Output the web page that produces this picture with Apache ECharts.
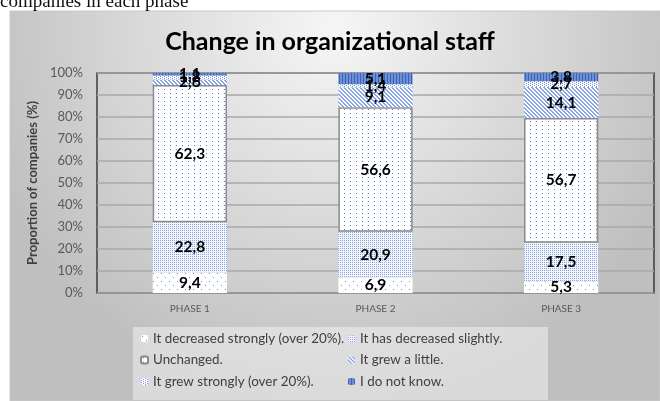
<!DOCTYPE html>
<html>
<head>
<meta charset="utf-8">
<script src="https://cdn.jsdelivr.net/npm/echarts@6/dist/echarts.min.js"></script>
<style>
  html, body { margin: 0; padding: 0; background: #ffffff; }
  #chart { width: 660px; height: 401px; }
</style>
</head>
<body>
<div id="chart"></div>
<script>
// Survey phases and share of companies (%) per answer, stacked bottom to top
const phases = ['PHASE 1', 'PHASE 2', 'PHASE 3'];
const decreasedStrongly = [9.4, 6.9, 5.3];
const decreasedSlightly = [22.8, 20.9, 17.5];
const unchanged = [62.3, 56.6, 56.7];
const grewLittle = [2.6, 9.1, 14.1];
const grewStrongly = [1.8, 1.4, 2.7];
const doNotKnow = [1.1, 5.1, 3.8];
const answerNames = [
  'It decreased strongly (over 20%).',
  'It has decreased slightly.',
  'Unchanged.',
  'It grew a little.',
  'It grew strongly (over 20%).',
  'I do not know.'
];
const yTicks = [0, 10, 20, 30, 40, 50, 60, 70, 80, 90, 100];

// Small tiled canvas fills for the hatched bar segments
function makePattern(w, h, bg, draw) {
  const c = document.createElement('canvas');
  c.width = w; c.height = h;
  const ctx = c.getContext('2d');
  ctx.fillStyle = bg;
  ctx.fillRect(0, 0, w, h);
  draw(ctx);
  return { image: c, repeat: 'repeat' };
}
function px(ctx, color, pts) {
  ctx.fillStyle = color;
  pts.forEach(p => ctx.fillRect(p[0], p[1], 1, 1));
}

const fills = [
  makePattern(8, 8, '#ffffff', ctx => px(ctx, '#6f93dc', [[1, 1], [5, 5]])),
  makePattern(4, 4, '#f2f5fc', ctx => px(ctx, '#8aa6e2', [[0, 0], [2, 2], [2, 0], [0, 2]])),
  makePattern(6, 4, '#ffffff', ctx => px(ctx, '#4f7fdc', [[2, 1]])),
  makePattern(4, 4, '#ffffff', ctx => px(ctx, '#88a4e2', [[0, 0], [1, 1], [2, 2], [3, 3], [1, 0], [2, 1], [3, 2], [0, 3]])),
  makePattern(4, 2, '#ffffff', ctx => px(ctx, '#7397e0', [[0, 0], [2, 1]])),
  makePattern(3, 1, '#6b8fd8', ctx => px(ctx, '#3f63b2', [[0, 0]]))
];

const seriesValues = [decreasedStrongly, decreasedSlightly, unchanged, grewLittle, grewStrongly, doNotKnow];

const chart = echarts.init(document.getElementById('chart'), null, { renderer: 'canvas' });

const series = seriesValues.map((vals, i) => ({
  name: answerNames[i],
  type: 'bar',
  stack: 'total',
  barWidth: '40%',
  data: vals,
  itemStyle: {
    color: fills[i],
    borderColor: i === 2 ? '#8a8a8a' : 'transparent',
    borderWidth: i === 2 ? 1.5 : 0
  },
  label: {
    show: true,
    position: 'inside',
    color: '#000000',
    fontFamily: 'Lato',
    fontWeight: 'bold',
    fontSize: 15.5,
    formatter: p => String(p.value).replace('.', ',')
  },
  emphasis: { disabled: true }
}));

const legendText = { color: '#404040', fontFamily: 'Lato', fontSize: 13.4 };

chart.setOption({
  animation: false,
  backgroundColor: 'transparent',
  graphic: [
    {
      type: 'rect', z: -10, silent: true,
      shape: { x: 10, y: 11, width: 650, height: 390 },
      style: {
        fill: {
          type: 'radial', x: 0.5, y: 0.05, r: 0.95,
          colorStops: [{ offset: 0, color: '#f6f6f6' }, { offset: 1, color: '#bfbfbf' }]
        },
        stroke: '#c8c8c8', lineWidth: 1
      }
    },
    {
      type: 'rect', z: -5, silent: true,
      shape: { x: 133, y: 327, width: 415, height: 73 },
      style: { fill: 'rgba(240,240,240,0.55)' }
    },
    {
      type: 'text', z: 10, silent: true,
      left: 0, top: -7,
      style: {
        text: 'companies in each phase',
        fill: '#111111',
        font: '19px "Liberation Serif"'
      }
    }
  ],
  title: {
    text: 'Change in organizational staff',
    left: 'center',
    top: 24,
    textStyle: { fontFamily: 'Lato', fontWeight: 'bold', fontSize: 25, color: '#000000' }
  },
  legend: [
    {
      orient: 'vertical', left: 140, top: 332, itemGap: 8.5, padding: 0,
      itemWidth: 7, itemHeight: 7,
      data: [answerNames[0], answerNames[2], answerNames[4]],
      textStyle: legendText,
      selectedMode: false
    },
    {
      orient: 'vertical', left: 348, top: 332, itemGap: 8.5, padding: 0,
      itemWidth: 7, itemHeight: 7,
      data: [answerNames[1], answerNames[3], answerNames[5]],
      textStyle: legendText,
      selectedMode: false
    }
  ],
  grid: {
    left: 97, right: 6, top: 73, bottom: 108,
    show: true, borderColor: '#3c3c3c', borderWidth: 1.5,
    backgroundColor: 'transparent'
  },
  xAxis: {
    type: 'category',
    data: phases,
    axisTick: { show: false },
    axisLine: { show: false },
    axisLabel: { color: '#595959', fontFamily: 'Lato', fontSize: 10, margin: 11 }
  },
  yAxis: {
    type: 'value',
    min: yTicks[0], max: yTicks[yTicks.length - 1], interval: yTicks[1] - yTicks[0],
    name: 'Proportion of companies (%)',
    nameLocation: 'middle',
    nameGap: 55,
    nameTextStyle: { color: '#404040', fontFamily: 'Lato', fontWeight: 'bold', fontSize: 13 },
    axisLine: { show: false },
    axisTick: { show: false },
    axisLabel: { color: '#595959', fontFamily: 'Lato', fontSize: 13, margin: 14, formatter: '{value}%' },
    splitLine: { lineStyle: { color: '#a8a8a8', width: 1.5 } }
  },
  series: series
});
</script>
</body>
</html>
